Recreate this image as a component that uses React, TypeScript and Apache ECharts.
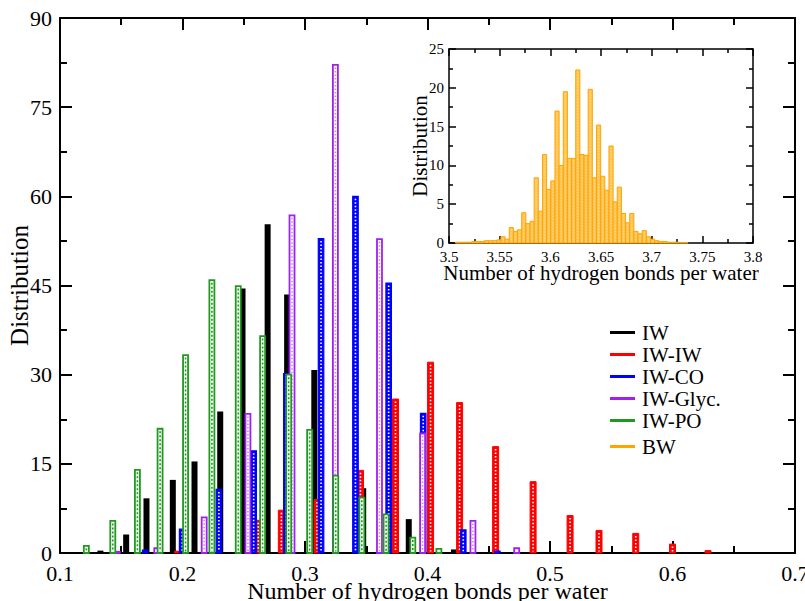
import React, { useEffect, useRef } from "react";
import * as echarts from "echarts";

// ---- Main plot data (x = number of H-bonds per water, y = distribution) ----
const iwX = [0.133, 0.154, 0.1706, 0.1921, 0.2098, 0.2308, 0.249, 0.2695, 0.2854, 0.3076, 0.3475, 0.3847, 0.4216];
const iwY = [0.4, 3.1, 9.2, 12.3, 15.4, 23.8, 44.5, 55.3, 43.5, 30.8, 10.9, 5.7, 0.6];

const iwiwX = [0.1959, 0.2618, 0.2807, 0.3098, 0.3453, 0.3739, 0.4025, 0.4262, 0.4556, 0.4862, 0.5164, 0.54, 0.57, 0.6, 0.629];
const iwiwY = [0.3, 5.5, 7.2, 9.0, 13.9, 25.9, 32.1, 25.3, 17.9, 12.0, 6.3, 3.8, 3.3, 1.5, 0.4];

const iwcoX = [0.1695, 0.1997, 0.2297, 0.2581, 0.2848, 0.3131, 0.3412, 0.3683, 0.3965, 0.4292, 0.457];
const iwcoY = [0.5, 4.0, 10.7, 17.2, 30.2, 52.9, 60.0, 45.4, 23.5, 3.9, 0.3];

const iwglX = [0.1468, 0.179, 0.2177, 0.2534, 0.2894, 0.3248, 0.3608, 0.396, 0.4371, 0.4728];
const iwglY = [0.2, 0.8, 6.0, 23.4, 56.8, 82.1, 52.8, 20.1, 5.4, 0.8];

const iwpoX = [0.1215, 0.1431, 0.1632, 0.1817, 0.2025, 0.224, 0.2455, 0.2654, 0.2867, 0.3038, 0.3251, 0.3464, 0.3662, 0.388, 0.4093];
const iwpoY = [1.2, 5.4, 14.0, 20.9, 33.3, 45.9, 44.9, 36.5, 30.0, 20.7, 13.0, 9.3, 6.5, 2.6, 0.7];

// ---- Inset data (bulk water) ----
const bwX = [
  3.5082, 3.5123, 3.5164, 3.5205, 3.5246, 3.5287, 3.5328, 3.5369, 3.541, 3.5451,
  3.5492, 3.5533, 3.5574, 3.5615, 3.5656, 3.5697, 3.5738, 3.5779, 3.582, 3.5861,
  3.5902, 3.5943, 3.5984, 3.6025, 3.6066, 3.6107, 3.6148, 3.6189, 3.623, 3.6271,
  3.6312, 3.6353, 3.6394, 3.6435, 3.6476, 3.6517, 3.6558, 3.6599, 3.664, 3.6681,
  3.6722, 3.6763, 3.6804, 3.6845, 3.6886, 3.6927, 3.6968, 3.7009, 3.705, 3.7091,
  3.7132, 3.7173, 3.7214, 3.7255, 3.7296, 3.7337,
];
const bwY = [
  0.1, 0.1, 0.1, 0.1, 0.2, 0.2, 0.2, 0.3, 0.3, 0.3,
  0.4, 0.8, 0.5, 2.0, 1.5, 1.7, 3.9, 2.5, 2.8, 8.4,
  4.1, 11.4, 6.9, 8.0, 17.0, 10.0, 19.5, 10.9, 10.9, 22.3,
  11.4, 11.3, 19.8, 8.4, 15.2, 8.6, 6.8, 12.5, 5.3, 7.2,
  3.8, 2.6, 3.8, 1.5, 1.2, 1.6, 0.8, 0.5, 0.3, 0.2,
  0.2, 0.1, 0.1, 0.1, 0.05, 0.05,
];

const seriesNames = ["IW", "IW-IW", "IW-CO", "IW-Glyc.", "IW-PO"];
const insetName = "BW";

const FONT = "Liberation Serif, 'Times New Roman', serif";
const BLACK = "#000000";
const RED = "#ff0000";
const BLUE = "#0000ff";
const PURPLE = "#a020f0";
const GREEN = "#1f9a1f";
const ORANGE = "#ffa500";

const zip = (xs: number[], ys: number[]) => xs.map((x, i) => [x, ys[i]]);

type BarStyle = { width: number; fill: string; stroke: string; lw: number; dot?: string; dash?: number[] };

function barRenderer(s: BarStyle) {
  return (_params: any, api: any) => {
    const x = api.value(0);
    const y = api.value(1);
    const base = api.coord([x, 0]);
    const top = api.coord([x, y]);
    const h = base[1] - top[1];
    const children: any[] = [
      {
        type: "rect",
        shape: { x: base[0] - s.width / 2, y: top[1], width: s.width, height: h },
        style: { fill: s.fill, stroke: s.lw > 0 ? s.stroke : null, lineWidth: s.lw },
      },
    ];
    if (s.dot && h > 5) {
      children.push({
        type: "line",
        shape: { x1: base[0], y1: top[1] + 2.5, x2: base[0], y2: base[1] - 1.5 },
        style: { stroke: s.dot, lineWidth: 1.6, lineDash: s.dash || [1.5, 2] },
      });
    }
    return { type: "group", children };
  };
}

function insetRenderer(binWidth: number) {
  return (_params: any, api: any) => {
    const x = api.value(0);
    const y = api.value(1);
    const base = api.coord([x, 0]);
    const top = api.coord([x, y]);
    const w = api.size([binWidth, 0])[0];
    const h = base[1] - top[1];
    const children: any[] = [
      {
        type: "rect",
        shape: { x: base[0] - w / 2, y: top[1], width: w, height: h },
        style: { fill: "#ffc657", stroke: ORANGE, lineWidth: 1 },
      },
    ];
    if (h > 5) {
      children.push({
        type: "line",
        shape: { x1: base[0], y1: top[1] + 2, x2: base[0], y2: base[1] - 1 },
        style: { stroke: "#ffe0a0", lineWidth: 1, lineDash: [1, 2] },
      });
    }
    return { type: "group", children };
  };
}

function axis(gridIndex: number, min: number, max: number, interval: number, major: number, minor: number, lw: number, extra: any) {
  return {
    type: "value",
    gridIndex,
    min,
    max,
    interval,
    nameMoveOverlap: false,
    axisLine: { show: true, onZero: false, lineStyle: { color: "#000", width: lw } },
    axisTick: { show: true, inside: true, length: major, lineStyle: { color: "#000", width: lw } },
    minorTick: { show: true, splitNumber: 2, length: minor, lineStyle: { color: "#000", width: lw } },
    splitLine: { show: false },
    minorSplitLine: { show: false },
    ...extra,
  };
}

const labelStyle = (size: number, margin: number, formatter?: any, lineHeight?: number) => ({
  show: true,
  fontSize: size,
  fontFamily: FONT,
  color: "#000",
  margin,
  formatter,
  lineHeight,
});

const legendText = { fontSize: 21, lineHeight: 21, fontFamily: FONT, color: "#000", padding: [0, 0, 0, 2] };

export default function App() {
  const ref = useRef<HTMLDivElement>(null);
  useEffect(() => {
    const chart = echarts.init(ref.current!, null, { renderer: "svg" });
    const option: any = {
      animation: false,
      backgroundColor: "#ffffff",
      grid: [
        { left: 60, right: 10, top: 18, bottom: 48, containLabel: false, outerBoundsMode: "none" },
        { left: 449, right: 52, top: 49, bottom: 358, containLabel: false, outerBoundsMode: "none" },
      ],
      xAxis: [
        axis(0, 0.1, 0.7, 0.1, 12, 7, 2, {
          position: "bottom",
          axisLabel: labelStyle(22, 12, (v: number) => v.toFixed(1), 16),
          name: "Number of hydrogen bonds per water",
          nameLocation: "middle",
          nameGap: 28,
          nameTextStyle: { fontSize: 24, lineHeight: 20, fontFamily: FONT, color: "#000" },
        }),
        axis(0, 0.1, 0.7, 0.1, 12, 7, 2, { position: "top", axisLabel: { show: false } }),
        axis(1, 3.5, 3.8, 0.05, 7, 4, 1.5, {
          position: "bottom",
          axisLabel: labelStyle(15, 6, (v: number) => String(+v.toFixed(2))),
          name: "Number of hydrogen bonds per water",
          nameLocation: "middle",
          nameGap: 19,
          nameTextStyle: { fontSize: 21, fontFamily: FONT, color: "#000" },
        }),
        axis(1, 3.5, 3.8, 0.05, 7, 4, 1.5, { position: "top", axisLabel: { show: false } }),
      ],
      yAxis: [
        axis(0, 0, 90, 15, 12, 7, 2, {
          position: "left",
          axisLabel: labelStyle(22, 8),
          name: "Distribution",
          nameLocation: "middle",
          nameGap: 28,
          nameTextStyle: { fontSize: 25, fontFamily: FONT, color: "#000" },
        }),
        axis(0, 0, 90, 15, 12, 7, 2, { position: "right", axisLabel: { show: false } }),
        axis(1, 0, 25, 5, 7, 4, 1.5, {
          position: "left",
          axisLabel: labelStyle(15, 5),
          name: "Distribution",
          nameLocation: "middle",
          nameGap: 19,
          nameTextStyle: { fontSize: 21, fontFamily: FONT, color: "#000" },
        }),
        axis(1, 0, 25, 5, 7, 4, 1.5, { position: "right", axisLabel: { show: false } }),
      ],
      legend: [
        {
          data: seriesNames,
          orient: "vertical",
          left: 605,
          top: 317,
          itemWidth: 25,
          itemHeight: 3,
          itemGap: 1,
          icon: "rect",
          selectedMode: false,
          textStyle: legendText,
        },
        {
          data: [insetName],
          orient: "vertical",
          left: 605,
          top: 431,
          itemWidth: 25,
          itemHeight: 3,
          icon: "rect",
          selectedMode: false,
          textStyle: legendText,
        },
      ],
      series: [
        {
          name: seriesNames[0],
          type: "custom",
          xAxisIndex: 0,
          yAxisIndex: 0,
          itemStyle: { color: BLACK },
          encode: { x: 0, y: 1 },
          data: zip(iwX, iwY),
          renderItem: barRenderer({ width: 6, fill: BLACK, stroke: BLACK, lw: 0 }),
        },
        {
          name: seriesNames[1],
          type: "custom",
          xAxisIndex: 0,
          yAxisIndex: 0,
          itemStyle: { color: RED },
          encode: { x: 0, y: 1 },
          data: zip(iwiwX, iwiwY),
          renderItem: barRenderer({ width: 6, fill: RED, stroke: RED, lw: 1, dot: "#ffffff" }),
        },
        {
          name: seriesNames[2],
          type: "custom",
          xAxisIndex: 0,
          yAxisIndex: 0,
          itemStyle: { color: BLUE },
          encode: { x: 0, y: 1 },
          data: zip(iwcoX, iwcoY),
          renderItem: barRenderer({ width: 5.5, fill: BLUE, stroke: BLUE, lw: 1.2, dot: "#ffffff" }),
        },
        {
          name: seriesNames[3],
          type: "custom",
          xAxisIndex: 0,
          yAxisIndex: 0,
          itemStyle: { color: PURPLE },
          encode: { x: 0, y: 1 },
          data: zip(iwglX, iwglY),
          renderItem: barRenderer({ width: 5, fill: "#ffffff", stroke: PURPLE, lw: 1.8, dot: "#c585f5" }),
        },
        {
          name: seriesNames[4],
          type: "custom",
          xAxisIndex: 0,
          yAxisIndex: 0,
          itemStyle: { color: GREEN },
          encode: { x: 0, y: 1 },
          data: zip(iwpoX, iwpoY),
          renderItem: barRenderer({ width: 5, fill: "#ffffff", stroke: GREEN, lw: 1.8, dot: GREEN, dash: [2, 2] }),
        },
        {
          name: insetName,
          type: "custom",
          xAxisIndex: 2,
          yAxisIndex: 2,
          itemStyle: { color: ORANGE },
          encode: { x: 0, y: 1 },
          data: zip(bwX, bwY),
          renderItem: insetRenderer(0.0041),
        },
      ],
    };
    chart.setOption(option);
    return () => chart.dispose();
  }, []);
  return (
    <div
      ref={ref}
      style={{ position: "absolute", left: 0, top: 0, width: 805, height: 601, background: "#ffffff" }}
    />
  );
}
